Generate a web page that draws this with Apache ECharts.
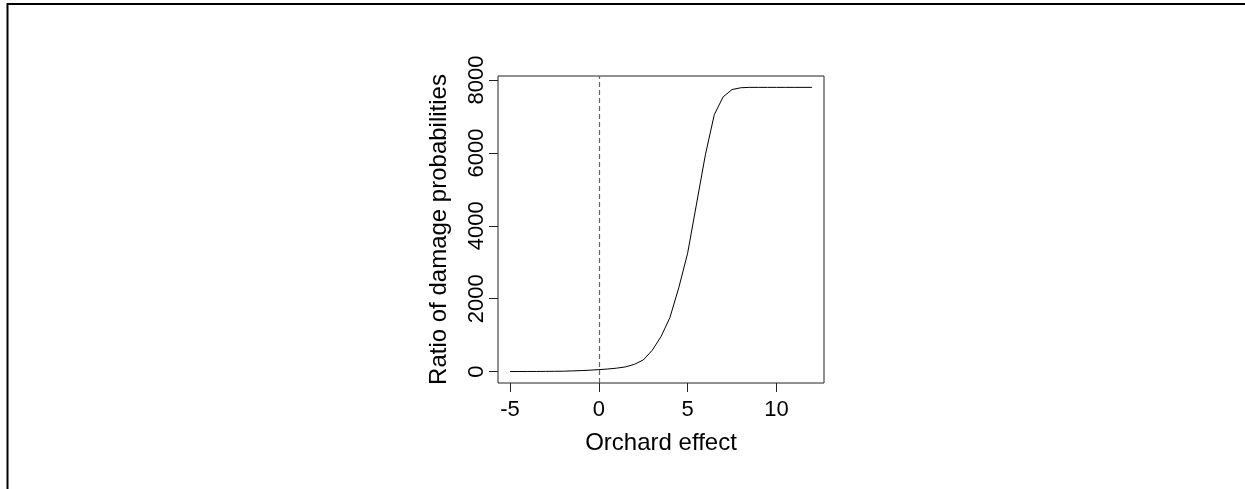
<!DOCTYPE html>
<html>
<head>
<meta charset="utf-8">
<script src="https://cdn.jsdelivr.net/npm/echarts@6/dist/echarts.min.js"></script>
<style>
html,body{margin:0;padding:0;background:#fff;}
#chart{width:1245px;height:489px;}
</style>
</head>
<body>
<div id="chart"></div>
<script>
// Orchard effect (x) and ratio of damage probabilities (y)
var orchardEffect = [-5, -4.5, -4, -3.5, -3, -2.5, -2, -1.5, -1, -0.5, 0, 0.5, 1, 1.5, 2, 2.5, 3, 3.5, 4, 4.5, 5, 5.5, 6, 6.5, 7, 7.5, 8, 8.5, 9, 9.5, 10, 10.5, 11, 11.5, 12];
var damageRatio = [2, 3, 4, 5, 7, 9, 12, 20, 28, 40, 55, 72, 95, 130, 200, 320, 580, 960, 1480, 2300, 3250, 4600, 5950, 7050, 7540, 7740, 7790, 7800, 7800, 7800, 7800, 7800, 7800, 7800, 7800];
var xTicks = [-5, 0, 5, 10];
var yTicks = [0, 2000, 4000, 6000, 8000];
var refLineX = 0;

var pts = orchardEffect.map(function (x, i) { return [x, damageRatio[i]]; });
var font = '"Liberation Sans", Arial, Helvetica, sans-serif';

var chart = echarts.init(document.getElementById('chart'), null, {renderer: 'canvas'});
chart.setOption({
  animation: false,
  backgroundColor: '#fff',
  graphic: [{
    type: 'rect',
    shape: {x: 7.5, y: 4, width: 2000, height: 2000},
    style: {fill: 'none', stroke: '#000', lineWidth: 2},
    silent: true
  }],
  grid: {
    left: 498, top: 76, width: 326, height: 307,
    show: true, borderColor: '#222', borderWidth: 1, backgroundColor: 'transparent'
  },
  xAxis: {
    type: 'value', min: -5.68, max: 12.68,
    name: 'Orchard effect', nameLocation: 'middle', nameGap: 48,
    nameTextStyle: {fontFamily: font, fontSize: 24, color: '#000'},
    axisLine: {show: false, onZero: false},
    splitLine: {show: false},
    axisTick: {show: true, inside: false, length: 9, customValues: xTicks, lineStyle: {color: '#222', width: 1}},
    axisLabel: {show: true, customValues: xTicks, margin: 16, fontFamily: font, fontSize: 22, color: '#000',
      formatter: function (v) { return String(v); }}
  },
  yAxis: {
    type: 'value', min: -312, max: 8112,
    name: 'Ratio of damage probabilities', nameLocation: 'middle', nameGap: 47,
    nameTextStyle: {fontFamily: font, fontSize: 24, color: '#000'},
    axisLine: {show: false, onZero: false},
    splitLine: {show: false},
    axisTick: {show: true, inside: false, length: 9, customValues: yTicks, lineStyle: {color: '#222', width: 1}},
    axisLabel: {show: true, customValues: yTicks, rotate: 90, margin: 10, fontFamily: font, fontSize: 22, color: '#000',
      formatter: function (v) { return String(v); }}
  },
  series: [{
    type: 'line',
    data: pts,
    showSymbol: false,
    smooth: false,
    lineStyle: {color: '#000', width: 1},
    markLine: {
      silent: true,
      symbol: ['none', 'none'],
      label: {show: false},
      lineStyle: {color: '#666', width: 1.2, type: [5, 3]},
      data: [{xAxis: refLineX}]
    }
  }]
});
</script>
</body>
</html>
